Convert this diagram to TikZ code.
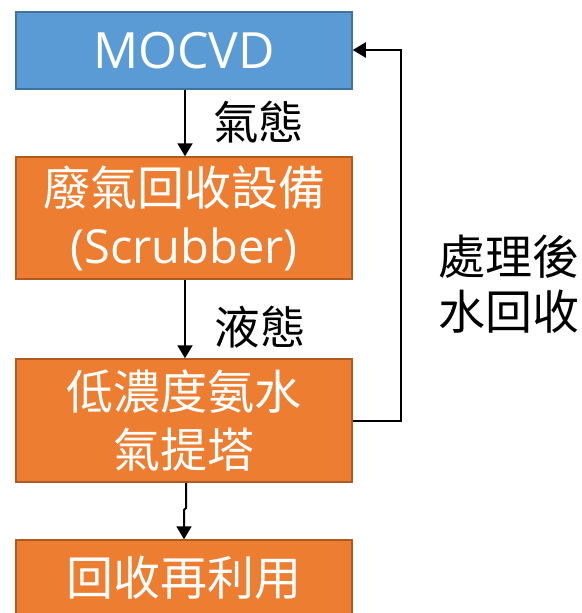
\documentclass[tikz,border=0pt]{standalone}
\usepackage{fontspec}
\setmainfont{Open Sans}
\newfontfamily\cjk{Noto Sans CJK TC}
\usetikzlibrary{arrows.meta}
\definecolor{bluefill}{HTML}{5B9BD5}
\definecolor{blueline}{HTML}{41719C}
\definecolor{orangefill}{HTML}{ED7D31}
\definecolor{orangeline}{HTML}{AE5A21}
\begin{document}
\begin{tikzpicture}[x=1pt,y=-1pt,
  boxbase/.style={rectangle, line width=1.5pt, minimum width=336pt, text=white, align=center, inner sep=0pt, font=\fontsize{47}{58}\selectfont},
  bluebox/.style={boxbase, draw=blueline, fill=bluefill},
  orangebox/.style={boxbase, draw=orangeline, fill=orangefill},
  flow/.style={line width=2pt, -{Triangle[width=15pt,length=13pt]}},
  lbl/.style={inner sep=0pt, font=\cjk\fontsize{45.5}{55}\selectfont, align=left}
]
\useasboundingbox (0,0) rectangle (581,613);
\node[bluebox, minimum height=77pt, font=\fontsize{50}{58}\selectfont] (m) at (184,50.5) {MOCVD};
\node[orangebox, minimum height=122pt] (s) at (184,218) {{\cjk 廢氣回收設備}\\(Scrubber)};
\node[orangebox, minimum height=123pt] (t) at (184,420.5) {\cjk 低濃度氨水\\\cjk 氣提塔};
\node[orangebox, minimum height=76pt] (r) at (184,578) {\cjk 回收再利用};
\node[lbl] (g) at (258.5,122) {氣態};
\node[lbl] (l) at (260,327) {液態};
\node[lbl, anchor=west, font=\cjk\fontsize{47}{55}\selectfont] (w) at (438,284.5) {處理後\\水回收};
\coordinate (c1) at (401,421);
\coordinate (c2) at (401,50);
\draw[flow] (m.south -| 185,0) -- (s.north -| 185,0);
\draw[flow] (s.south -| 185,0) -- (t.north -| 185,0);
\draw[flow] (t.south -| 186,0) -- (186,508) -- (184,510) -- (r.north -| 184,0);
\draw[flow] (t.east |- c1) -- (c1) -- (c2) -- (m.east |- c2);
\end{tikzpicture}
\end{document}
